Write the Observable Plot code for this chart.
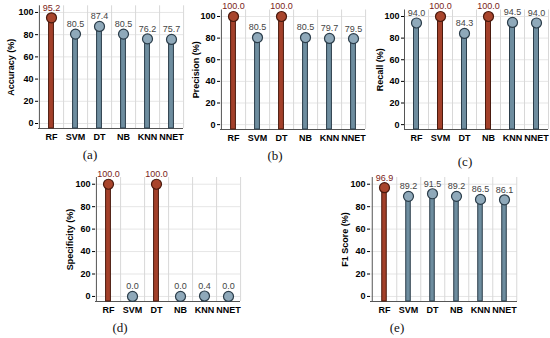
<!DOCTYPE html>
<html>
<head>
<meta charset="utf-8">
<script src="https://cdn.jsdelivr.net/npm/d3@7"></script>
<script src="https://cdn.jsdelivr.net/npm/@observablehq/plot@0.6"></script>
<style>
  html, body { margin: 0; padding: 0; background: #fff; }
  #root { position: relative; width: 550px; height: 338px; background: #fff; font-family: "Liberation Sans", Arial, sans-serif; overflow: hidden; }
  #root svg { position: absolute; overflow: visible; }
  .cap { position: absolute; font-family: "Liberation Serif", "DejaVu Serif", serif; font-size: 13px; color: #111; transform: translate(-50%, -50%); }
</style>
</head>
<body>
<div id="root"></div>
<script>
const categories = ["RF", "SVM", "DT", "NB", "KNN", "NNET"];
const accuracy    = [95.2, 80.5, 87.4, 80.5, 76.2, 75.7];
const precision   = [100.0, 80.5, 100.0, 80.5, 79.7, 79.5];
const recall      = [94.0, 100.0, 84.3, 100.0, 94.5, 94.0];
const specificity = [100.0, 0.0, 100.0, 0.0, 0.4, 0.0];
const f1score     = [96.9, 89.2, 91.5, 89.2, 86.5, 86.1];

const accuracyBest    = ["RF"];
const precisionBest   = ["RF", "DT"];
const recallBest      = ["SVM", "NB"];
const specificityBest = ["RF", "DT"];
const f1Best          = ["RF"];

const yTicks = [0, 20, 40, 60, 80, 100];
const yMin = -4.5, yMax = 106;

const panels = [
  {values: accuracy, best: accuracyBest, label: "Accuracy (%)", caption: "(a)",
   left: 0, top: 0, width: 185, height: 142, mL: 38, mT: 5.3, mB: 14, lo: 31, capX: 90, capY: 155},
  {values: precision, best: precisionBest, label: "Precision (%)", caption: "(b)",
   left: 180, top: 0, width: 187, height: 142, mL: 40, mT: 9.5, mB: 13, lo: 28, capX: 275, capY: 156},
  {values: recall, best: recallBest, label: "Recall (%)", caption: "(c)",
   left: 365, top: 0, width: 185, height: 142, mL: 39, mT: 9.5, mB: 13, lo: 28, capX: 465, capY: 162},
  {values: specificity, best: specificityBest, label: "Specificity (%)", caption: "(d)",
   left: 55, top: 165, width: 187, height: 150, mL: 40, mT: 12, mB: 14, lo: 29, capX: 120, capY: 328},
  {values: f1score, best: f1Best, label: "F1 Score (%)", caption: "(e)",
   left: 330, top: 165, width: 189, height: 150, mL: 40, mT: 12, mB: 14, lo: 29, capX: 397, capY: 328}
];

const root = document.getElementById("root");

for (const p of panels) {
  const rows = categories.map((c, i) => ({cat: c, v: p.values[i], best: p.best.includes(c)}));
  const mR = 2;
  const bw = (p.width - p.mL - mR) / categories.length;
  const stemW = 5;
  const inset = (bw - stemW) / 2;
  const chart = Plot.plot({
    width: p.width,
    height: p.height,
    marginLeft: p.mL,
    marginRight: mR,
    marginTop: p.mT,
    marginBottom: p.mB,
    x: {domain: categories, padding: 0, label: null, tickSize: 0, tickPadding: 5},
    y: {domain: [yMin, yMax], ticks: yTicks, grid: true, tickSize: 3, tickPadding: 2,
        label: p.label, labelAnchor: "center", labelOffset: p.lo, labelArrow: "none"},
    style: {fontFamily: "'Liberation Sans', Arial, sans-serif", fontSize: "9px", fontWeight: "bold", color: "#000", background: "transparent"},
    marks: [
      Plot.ruleX(categories, {x: d => d, dx: bw / 2, stroke: "#d8d8d8", strokeWidth: 1}),
      Plot.ruleY([yMin], {stroke: "#555", strokeWidth: 1}),
      Plot.ruleX([categories[0]], {x: d => d, dx: -bw / 2, stroke: "#555", strokeWidth: 1}),
      Plot.barY(rows, {x: "cat", y1: () => yMin, y2: "v",
        fill: d => d.best ? "#a3402a" : "#6e8d9f",
        stroke: d => d.best ? "#4a1a0e" : "#2b3d4a", strokeWidth: 1,
        insetLeft: inset, insetRight: inset}),
      Plot.dot(rows, {x: "cat", y: "v", r: 5,
        fill: d => d.best ? "#a9452c" : "#8fa9ba",
        stroke: d => d.best ? "#4a1a0e" : "#2b3d4a", strokeWidth: 1.2}),
      Plot.text(rows, {x: "cat", y: "v", text: d => d.v.toFixed(1), dy: -10,
        fill: d => d.best ? "#7a2318" : "#444", fontWeight: "normal", fontSize: 9})
    ]
  });
  chart.style.left = p.left + "px";
  chart.style.top = p.top + "px";
  root.appendChild(chart);

  const cap = document.createElement("div");
  cap.className = "cap";
  cap.textContent = p.caption;
  cap.style.left = p.capX + "px";
  cap.style.top = p.capY + "px";
  root.appendChild(cap);
}
</script>
</body>
</html>
